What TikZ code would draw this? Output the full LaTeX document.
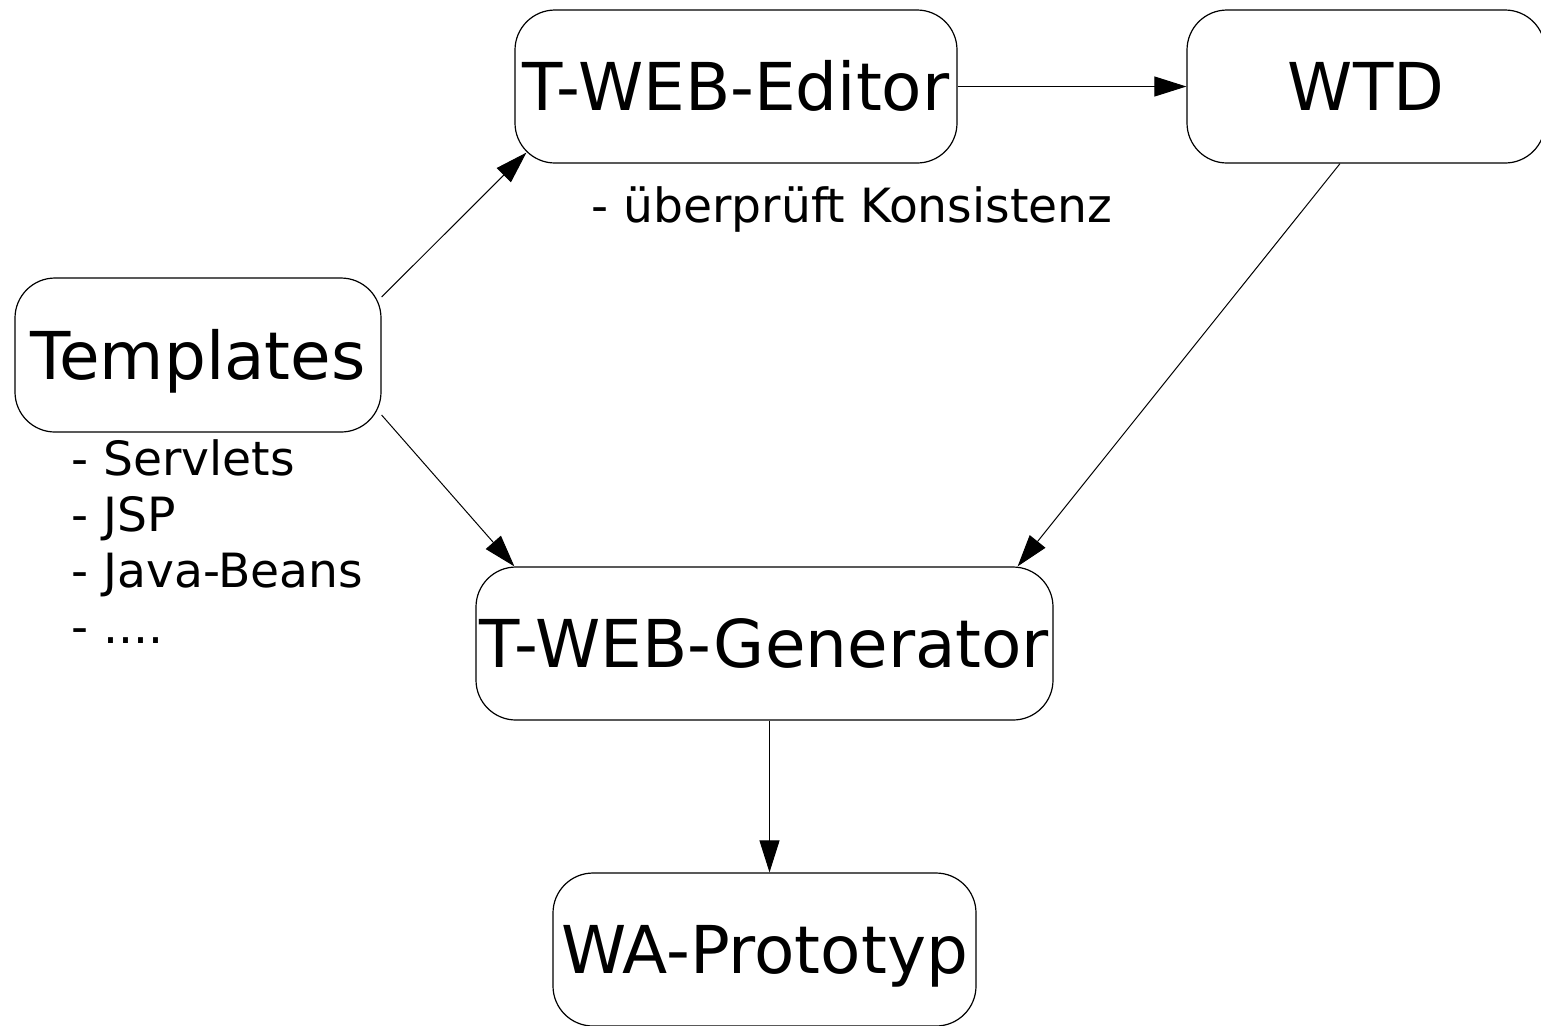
\documentclass[tikz,border=0pt]{standalone}
\usepackage{fontspec}
\setmainfont{DejaVu Sans}
\usetikzlibrary{arrows.meta,calc}
\begin{document}
\begin{tikzpicture}[x=0.5pt,y=-0.5pt,
  box/.style={draw,line width=0.6pt,rounded corners=20pt,inner sep=0pt,
    font=\fontsize{33}{40}\selectfont,text height=24.1pt,text depth=0pt,
    minimum height=76.5pt},
  note/.style={inner sep=0pt,anchor=base west,font=\fontsize{23.6}{28}\selectfont},
  flow/.style={line width=0.5pt,-{Triangle[length=16pt,width=10pt]}}]
\useasboundingbox (0,0) rectangle (1541,1025);

% process boxes
\node[box,minimum width=221pt]   (edit) at (736,86.5)  {T-WEB-Editor};
\node[box,minimum width=179pt]   (wtd)  at (1366,86.5) {WTD};
\node[box,minimum width=183pt,minimum height=77pt] (tmpl) at (198,355) {Templates};
\node[box,minimum width=288.5pt] (gen)  at (764.5,643.5) {T-WEB-Generator};
\node[box,minimum width=211.5pt] (wa)   at (764.5,949.5) {WA-Prototyp};

% annotations
\node[note] (chk) at (591,222) {- überprüft Konsistenz};
\node[note] (l1) at (71,475) {- Servlets};
\node[note] (l2) at (71,531) {- JSP};
\node[note] (l3) at (71,587) {- Java-Beans};
\node[note] (l4) at (71,643) {- ....};

% connectors
\draw[flow] ($(tmpl.east)+(0,-58)$) -- ($(edit.south west)+(12,-11)$);
\draw[flow] ($(tmpl.east)+(0,60)$) -- ($(gen.north west)+(39,0)$);
\draw[flow] (edit.east) -- (wtd.west);
\draw[flow] ($(wtd.south)+(-26,0)$) -- ($(gen.north east)+(-36,0)$);
\coordinate (gs) at ($(gen.south)+(5,0)$);
\draw[flow] (gs) -- (gs |- wa.north);
\end{tikzpicture}
\end{document}
